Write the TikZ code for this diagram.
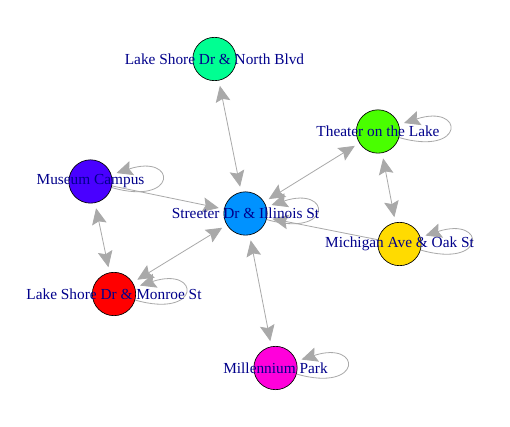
\documentclass[tikz,border=0pt]{standalone}
\usepackage{fontspec}
\setmainfont{Liberation Serif}
\usetikzlibrary{arrows.meta}
\definecolor{edgegray}{HTML}{A9A9A9}
\definecolor{labelblue}{HTML}{00008B}
\pgfdeclarelayer{edges}
\pgfsetlayers{edges,main}
\begin{document}
\begin{tikzpicture}
  [x=0.75pt,y=-0.75pt,
   >={Stealth[length=12pt,width=11pt,inset=2pt]},
   vertex/.style={circle,draw=black,line width=0.5pt,minimum size=32.5pt,inner sep=0pt},
   lbl/.style={text=labelblue,font=\fontsize{11.5}{13}\selectfont,inner sep=0pt},
   link/.style={draw=edgegray,line width=0.6pt,->,shorten >=4pt},
   both/.style={link,<->,shorten <=4pt},
   self/.style={link,out=-16,in=18,distance=52pt}]
\useasboundingbox (0,0) rectangle (510,427); % picture size in px
\node at (214.5,59)  (north)      [vertex, fill={rgb,255:red,0;green,255;blue,146}] {};
\node at (378,131.5) (theater)    [vertex, fill={rgb,255:red,73;green,255;blue,0}] {};
\node at (90.5,181.5) (museum)    [vertex, fill={rgb,255:red,73;green,0;blue,255}] {};
\node at (245.5,213.5) (streeter) [vertex, fill={rgb,255:red,0;green,146;blue,255}] {};
\node at (399.5,244) (michigan)   [vertex, fill={rgb,255:red,255;green,219;blue,0}] {};
\node at (114,294)   (monroe)     [vertex, fill={rgb,255:red,255;green,0;blue,0}] {};
\node at (275.5,368) (millennium) [vertex, fill={rgb,255:red,255;green,0;blue,219}] {};
%
\node at (north)      (northlbl)      [lbl] {Lake Shore Dr \& North Blvd};
\node at (theater)    (theaterlbl)    [lbl] {Theater on the Lake};
\node at (museum)     (museumlbl)     [lbl] {Museum Campus};
\node at (streeter)   (streeterlbl)   [lbl] {Streeter Dr \& Illinois St};
\node at (michigan)   (michiganlbl)   [lbl] {Michigan Ave \& Oak St};
\node at (monroe)     (monroelbl)     [lbl] {Lake Shore Dr \& Monroe St};
\node at (millennium) (millenniumlbl) [lbl] {Millennium Park};
%
\begin{pgfonlayer}{edges}
\fill[white] (0,0) rectangle (510,427);
\draw [both] (north)   -- (streeter);
\draw [both] (theater) -- (streeter);
\draw [both] (theater) -- (michigan);
\draw [both] (museum)  -- (monroe);
\draw [both] (monroe)  -- (streeter);
\draw [both] (streeter) -- (millennium);
\draw [link] (museum)   -- (streeter);
\draw [link] (michigan) -- (streeter);
%
\draw [self] (theater)    to (theater);
\draw [self] (museum)     to (museum);
\draw [self] (streeter)   to (streeter);
\draw [self] (michigan)   to (michigan);
\draw [self] (monroe)     to (monroe);
\draw [self] (millennium) to (millennium);
\end{pgfonlayer}
\end{tikzpicture}
\end{document}
